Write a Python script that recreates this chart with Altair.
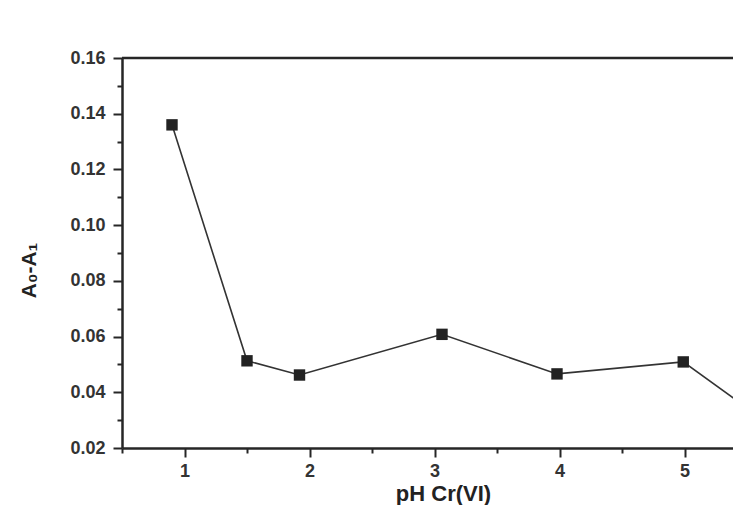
import altair as alt
import pandas as pd

# data
ph = [0.9, 1.5, 1.92, 3.06, 3.98, 4.99, 5.5]
delta_a = [0.136, 0.0513, 0.0462, 0.0608, 0.0466, 0.0509, 0.0344]

x_major = [1, 2, 3, 4, 5]
x_minor = [0.5, 1.5, 2.5, 3.5, 4.5]
y_major = [0.02, 0.04, 0.06, 0.08, 0.10, 0.12, 0.14, 0.16]
y_minor = [0.03, 0.05, 0.07, 0.09, 0.11, 0.13, 0.15]
frame_top = [0.16]

df = pd.DataFrame({"ph": ph, "a": delta_a})

X_DOM = [0.5, 5.388]
Y_DOM = [0.02, 0.16]
INK = "#262626"
FONT = "Liberation Sans"

xs = alt.Scale(domain=X_DOM, nice=False, zero=False)
ys = alt.Scale(domain=Y_DOM, nice=False, zero=False)

x_axis = alt.Axis(
    orient="bottom", values=x_major, format="d", title="pH Cr(VI)",
    tickSize=9, tickWidth=2, tickColor=INK, domainColor=INK, domainWidth=2.5,
    labelFontSize=18, labelFontWeight="bold", labelColor="#333", labelPadding=5,
    labelFont=FONT, titleFont=FONT, titleFontSize=22, titleFontWeight="bold",
    titleColor="#222", titleX=321, titleY=52, titleBaseline="alphabetic", grid=False,
)
y_axis = alt.Axis(
    orient="left", values=y_major, format=".2f", title="A₀-A₁",
    tickSize=9, tickWidth=2, tickColor=INK, domainColor=INK, domainWidth=2.5,
    labelFontSize=18, labelFontWeight="bold", labelColor="#333", labelPadding=8,
    labelFont=FONT, titleFont=FONT, titleFontSize=21, titleFontWeight="bold",
    titleColor="#222", titleX=-87, titleY=212, titleAngle=-90,
    titleBaseline="alphabetic", titleAlign="center", grid=False,
)
x_minor_axis = alt.Axis(
    orient="bottom", values=x_minor, labels=False, domain=False, title=None,
    tickSize=5, tickWidth=2, tickColor=INK, grid=False,
)
y_minor_axis = alt.Axis(
    orient="left", values=y_minor, labels=False, domain=False, title=None,
    tickSize=5, tickWidth=2, tickColor=INK, grid=False,
)

line = alt.Chart(df).mark_line(color="#333", strokeWidth=1.6, clip=True).encode(
    x=alt.X("ph:Q", scale=xs, axis=x_axis),
    y=alt.Y("a:Q", scale=ys, axis=y_axis),
)
pts = alt.Chart(df).mark_square(size=130, color="#222", opacity=1, clip=True).encode(
    x=alt.X("ph:Q", scale=xs, axis=None),
    y=alt.Y("a:Q", scale=ys, axis=None),
)
minor = alt.Chart(df).mark_point(opacity=0).encode(
    x=alt.X("ph:Q", scale=xs, axis=x_minor_axis),
    y=alt.Y("a:Q", scale=ys, axis=y_minor_axis),
)
top = alt.Chart(pd.DataFrame({"y": frame_top})).mark_rule(color=INK, strokeWidth=2.5).encode(
    y=alt.Y("y:Q", scale=ys, axis=None),
)

chart = (
    alt.layer(line, pts, minor, top)
    .resolve_axis(x="independent", y="independent")
    .properties(
        width=611, height=390,
        autosize=alt.AutoSizeParams(type="none"),
        padding={"left": 114, "top": 50, "right": 0, "bottom": 57},
        background="white",
    )
    .configure_view(stroke=None)
)

chart.save("out.html", embed_options={"renderer": "svg", "actions": False})
